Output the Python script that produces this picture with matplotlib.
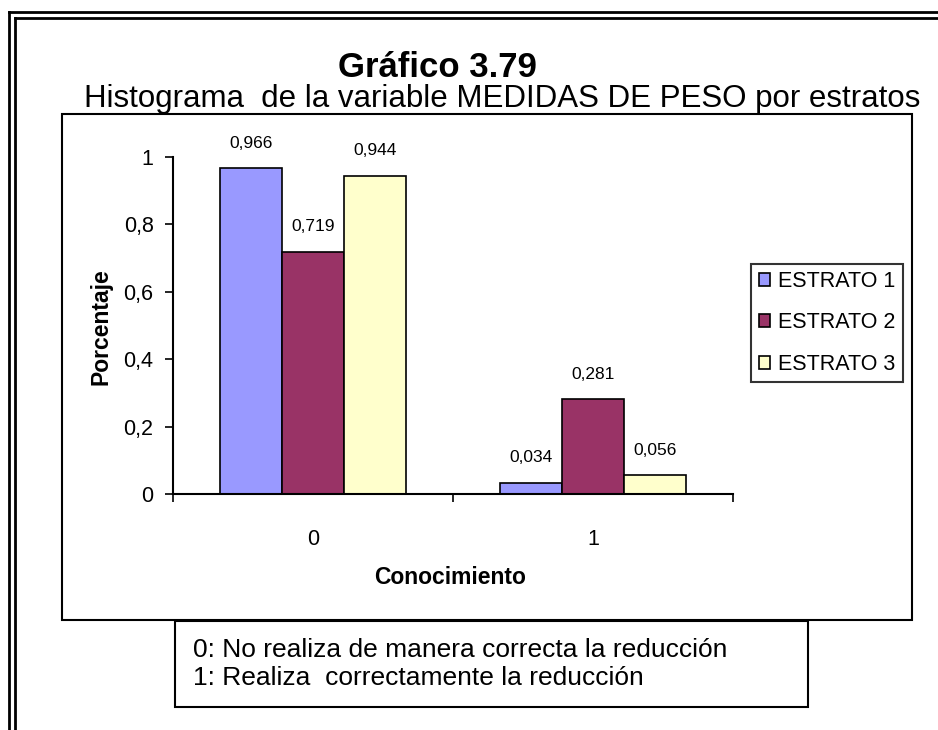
import numpy as np
import matplotlib
matplotlib.use('Agg')
import matplotlib.pyplot as plt
from matplotlib.patches import Rectangle, Patch
from matplotlib.lines import Line2D

# ---- data ----
categorias = ['0', '1']
series     = ['ESTRATO 1', 'ESTRATO 2', 'ESTRATO 3']
estrato1   = [0.966, 0.034]
estrato2   = [0.719, 0.281]
estrato3   = [0.944, 0.056]
yticks     = [0, 0.2, 0.4, 0.6, 0.8, 1]
notas      = ['0: No realiza de manera correcta la reducción',
              '1: Realiza  correctamente la reducción']

colores = ['#9999FF', '#993366', '#FFFFCC']

plt.rcParams['font.family'] = ['Liberation Sans', 'DejaVu Sans']

W, H = 938, 730
fig = plt.figure(figsize=(W/100, H/100), dpi=100)

def fx(x): return x/W
def fy(y): return 1 - y/H

# double outer frame (open on the right and bottom)
for off in (9, 15):
    fig.add_artist(Line2D([fx(off), fx(off)], [fy(off+3), 0], color='k', lw=2))
    fig.add_artist(Line2D([fx(off), 1], [fy(off+3), fy(off+3)], color='k', lw=2))

fig.text(fx(437), fy(77), 'Gráfico 3.79', fontsize=25, fontweight='bold',
         ha='center', va='baseline')
fig.text(fx(502), fy(107), 'Histograma  de la variable MEDIDAS DE PESO por estratos',
         fontsize=22.5, ha='center', va='baseline')

# chart box
fig.add_artist(Rectangle((fx(62), fy(620)), fx(912)-fx(62), fy(114)-fy(620),
                         transform=fig.transFigure, fill=False, ec='k', lw=1.5))

ax = fig.add_axes([fx(173), fy(494), fx(733)-fx(173), fy(157)-fy(494)])
x = np.arange(len(categorias))
w = 1/4.5
for i, (vals, col, lab) in enumerate(zip([estrato1, estrato2, estrato3], colores, series)):
    pos = x + (i-1)*w
    ax.bar(pos, vals, w, color=col, edgecolor='k', lw=1.2, label=lab, zorder=2)
    for p, v in zip(pos, vals):
        ax.annotate(f'{v:.3f}'.replace('.', ','), (p, v), xytext=(0, 18),
                    textcoords='offset points', ha='center', va='center',
                    fontsize=12.5, annotation_clip=False)

ax.set_xlim(-0.5, len(categorias)-0.5)
ax.set_ylim(0, 1)
ax.set_yticks(yticks)
ax.set_yticklabels([f'{t:g}'.replace('.', ',') for t in yticks], fontsize=15.5)
ax.set_xticks(x)
ax.set_xticklabels(categorias, fontsize=15.5)
ax.set_xticks([-0.5, 0.5, 1.5], minor=True)
ax.tick_params(axis='x', which='major', length=0, pad=25)
ax.tick_params(axis='x', which='minor', length=6, width=1.2, direction='out')
ax.tick_params(axis='y', length=6, width=1.2, direction='out', pad=8)
for s in ('top', 'right'):
    ax.spines[s].set_visible(False)
for s in ('left', 'bottom'):
    ax.spines[s].set_linewidth(1.5)
ax.patch.set_alpha(0)

fig.text(fx(101), fy(327), 'Porcentaje', rotation=90, fontsize=16.5,
         fontweight='bold', ha='center', va='center')
fig.text(fx(450), fy(577), 'Conocimiento', fontsize=16.5, fontweight='bold',
         ha='center', va='center')

handles = [Patch(facecolor=c, edgecolor='k', lw=1.2) for c in colores]
leg = ax.legend(handles, series, loc='center left',
                bbox_to_anchor=(fx(751), fy(323)), bbox_transform=fig.transFigure,
                fontsize=15.5, frameon=True, fancybox=False, edgecolor='k',
                handlelength=0.55, handleheight=0.55, handletextpad=0.35,
                labelspacing=0.95, borderpad=0.35, borderaxespad=0)
leg.get_frame().set_linewidth(1.5)

# note box
fig.add_artist(Rectangle((fx(175), fy(707)), fx(808)-fx(175), fy(621)-fy(707),
                         transform=fig.transFigure, fill=False, ec='k', lw=1.5))
for k, t in enumerate(notas):
    fig.text(fx(193), fy(650 + 28*k), t, fontsize=19, ha='left', va='center')

fig.savefig('out.png', dpi=100)
